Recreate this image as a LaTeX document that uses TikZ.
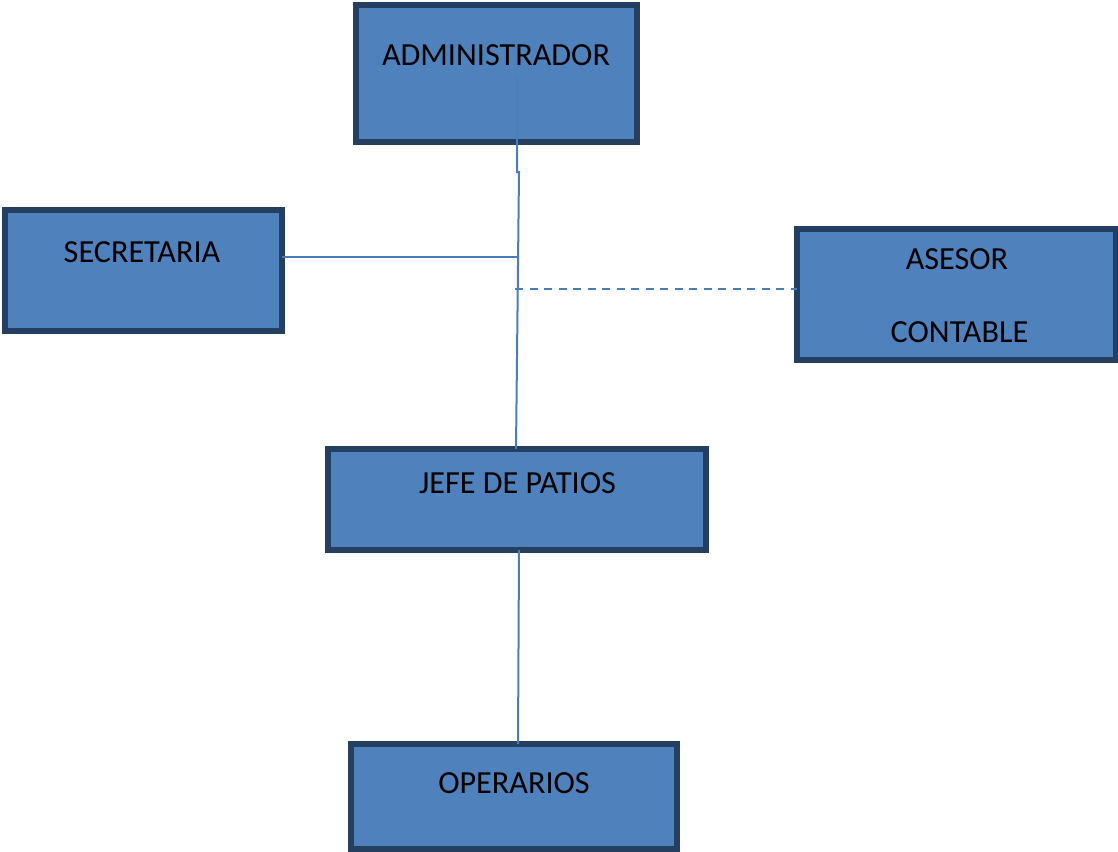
\documentclass[tikz,border=0pt]{standalone}
\usepackage{fontspec}
\setmainfont{Carlito}
\definecolor{boxfill}{HTML}{4F81BD}
\definecolor{boxline}{HTML}{243F60}
\definecolor{conn}{HTML}{4A7EBB}
\begin{document}
\begin{tikzpicture}[x=1pt,y=-1pt,
  orgbox/.style={draw=boxline,fill=boxfill,line width=6pt,rectangle,inner sep=0pt,outer sep=0pt},
  lbl/.style={anchor=base,inner sep=0pt,font=\fontsize{32.2}{38}\selectfont,text=black},
  wire/.style={draw=conn,line width=2pt},
  dwire/.style={draw=conn,line width=2pt,dash pattern=on 8pt off 6.5pt}]
\useasboundingbox (0,0) rectangle (1118,851);
\node[orgbox,minimum width=280.5pt,minimum height=137pt] (admin) at (496.25,73.5) {};
\node[orgbox,minimum width=277.5pt,minimum height=121pt] (secre) at (143.25,270) {};
\node[orgbox,minimum width=318.5pt,minimum height=131pt] (asesor) at (956.25,294) {};
\node[orgbox,minimum width=378pt,minimum height=101pt] (jefe) at (517,499.5) {};
\node[orgbox,minimum width=325.5pt,minimum height=104.5pt] (oper) at (513.75,796.25) {};
\node[lbl] (tadmin) at (496,65) {ADMINISTRADOR};
\node[lbl] (tsecre) at (142,262) {SECRETARIA};
\node[lbl] (tases1) at (957,269) {ASESOR};
\node[lbl] (tases2) at (959.5,342) {CONTABLE};
\node[lbl] (tjefe) at (517.5,493) {JEFE DE PATIOS};
\node[lbl] (toper) at (514,793) {OPERARIOS};
\coordinate (a1) at (517,77);
\coordinate (a2) at (517,172);
\coordinate (a3) at (519,172);
\coordinate (s1) at (517.6,256.5);
\coordinate (d1) at (515,289);
\draw[wire] (a1) -- (a2) -- (a3) -- (jefe.north -| 516,0);
\draw[wire] (secre.east |- s1) -- (s1);
\draw[dwire] (d1) -- (asesor.west |- d1);
\draw[wire] (jefe.south -| 519,0) -- (oper.north -| 518,0);
\end{tikzpicture}
\end{document}
